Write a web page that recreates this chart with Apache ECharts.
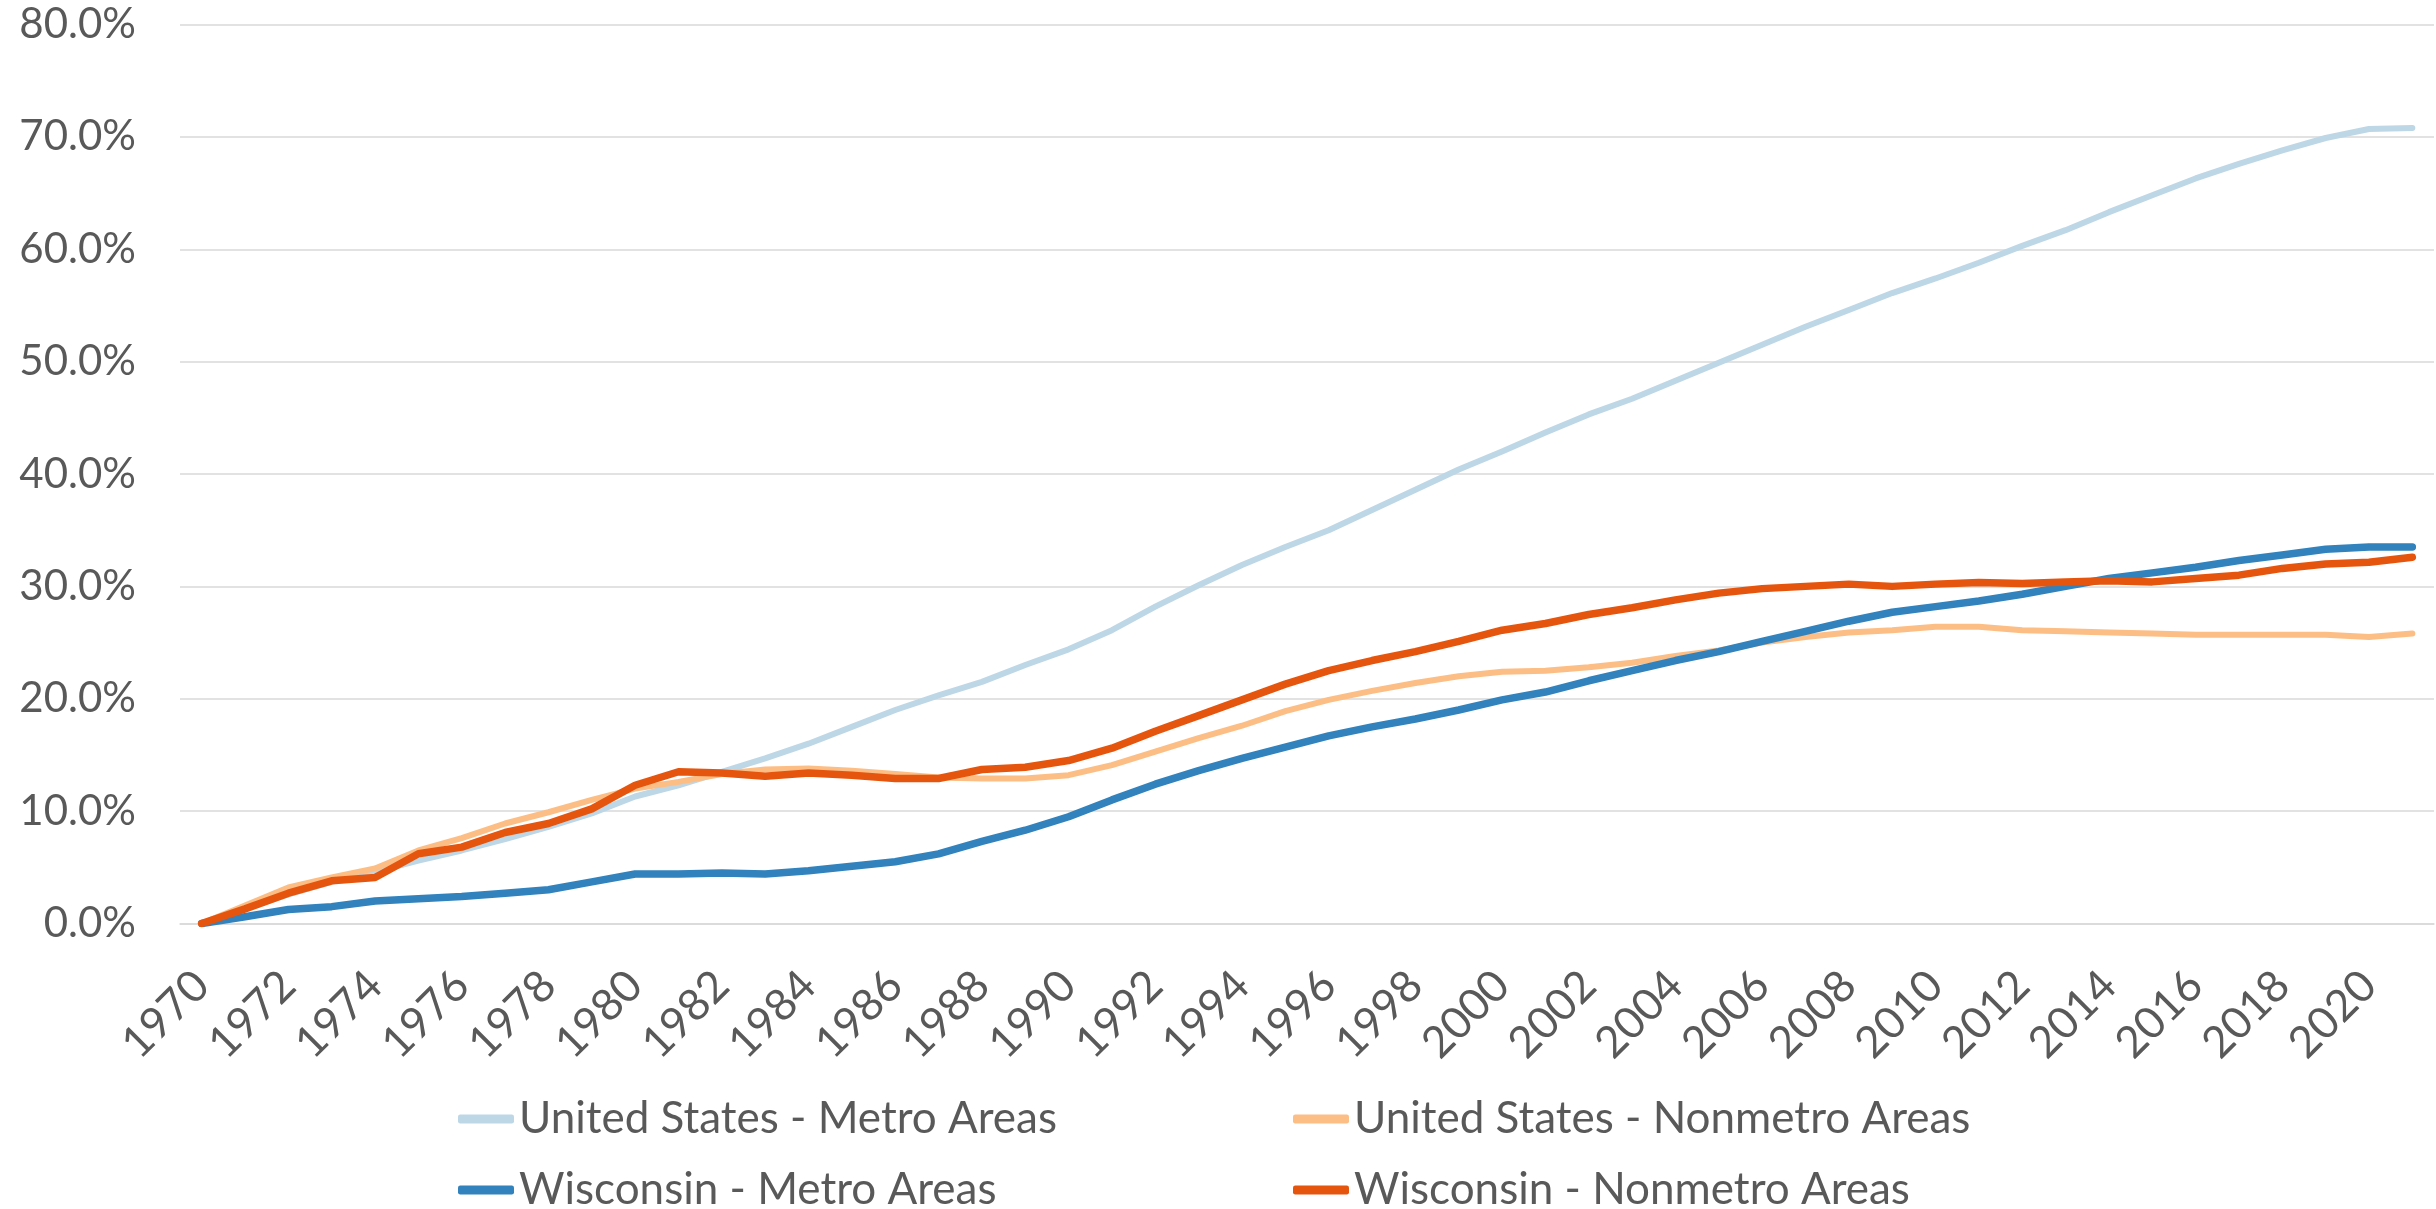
<!DOCTYPE html>
<html>
<head>
<meta charset="utf-8">
<title>Metro vs nonmetro growth</title>
<script src="https://cdn.jsdelivr.net/npm/echarts@6/dist/echarts.min.js"></script>
<style>
html, body { margin: 0; padding: 0; background: #fff; }
#chart { width: 2436px; height: 1209px; }
</style>
</head>
<body>
<div id="chart"></div>
<script>
// years 1970..2021
var years = [];
for (var y = 1970; y <= 2021; y++) years.push(String(y));

var usMetro = [0, 1.3, 2.6, 3.7, 4.6, 5.6, 6.5, 7.5, 8.6, 9.8,
  11.3, 12.3, 13.5, 14.7, 16.0, 17.5, 19.0, 20.3, 21.5, 23.0,
  24.4, 26.1, 28.2, 30.1, 31.9, 33.5, 35.0, 36.8, 38.6, 40.4,
  42.0, 43.7, 45.3, 46.7, 48.3, 49.9, 51.5, 53.1, 54.6, 56.1,
  57.4, 58.8, 60.3, 61.7, 63.3, 64.8, 66.3, 67.6, 68.8, 69.9,
  70.7, 70.8];
var usNonmetro = [0, 1.6, 3.2, 4.1, 4.9, 6.5, 7.6, 8.9, 9.9, 11.0,
  12.0, 12.6, 13.3, 13.7, 13.8, 13.6, 13.3, 13.0, 12.9, 12.9,
  13.2, 14.1, 15.3, 16.5, 17.6, 18.9, 19.9, 20.7, 21.4, 22.0,
  22.4, 22.5, 22.8, 23.2, 23.8, 24.3, 25.0, 25.5, 25.9, 26.1,
  26.4, 26.4, 26.1, 26.0, 25.9, 25.8, 25.7, 25.7, 25.7, 25.7,
  25.5, 25.8];
var wiMetro = [0, 0.6, 1.25, 1.5, 2.0, 2.2, 2.4, 2.7, 3.0, 3.7,
  4.4, 4.4, 4.5, 4.4, 4.7, 5.1, 5.5, 6.2, 7.3, 8.3,
  9.5, 11.0, 12.4, 13.6, 14.7, 15.7, 16.7, 17.5, 18.2, 19.0,
  19.9, 20.6, 21.6, 22.5, 23.4, 24.2, 25.1, 26.0, 26.9, 27.7,
  28.2, 28.7, 29.3, 30.0, 30.7, 31.2, 31.7, 32.3, 32.8, 33.3,
  33.5, 33.5];
var wiNonmetro = [0, 1.3, 2.7, 3.8, 4.1, 6.2, 6.8, 8.1, 8.9, 10.2,
  12.3, 13.5, 13.4, 13.1, 13.4, 13.2, 12.9, 12.9, 13.7, 13.9,
  14.5, 15.6, 17.1, 18.5, 19.9, 21.3, 22.5, 23.4, 24.2, 25.1,
  26.1, 26.7, 27.5, 28.1, 28.8, 29.4, 29.8, 30.0, 30.2, 30.0,
  30.2, 30.35, 30.25, 30.4, 30.5, 30.4, 30.7, 31.0, 31.6, 32.0,
  32.15, 32.6];

var names = ['United States - Metro Areas', 'United States - Nonmetro Areas',
  'Wisconsin - Metro Areas', 'Wisconsin - Nonmetro Areas'];
var colors = ['#bdd7e7', '#fdbe85', '#3182bd', '#e6550d'];

var font = 'Lato, "Open Sans", sans-serif';
var txt = '#595959';

function line(name, data, color, width) {
  return {
    name: name, type: 'line', data: data, symbol: 'none',
    lineStyle: { color: color, width: width, cap: 'round', join: 'round' },
    itemStyle: { color: color },
    emphasis: { disabled: true }
  };
}

// one legend per entry, laid out as 2 columns x 2 rows
function legendAt(name, left, top) {
  return {
    data: [name], left: left, top: top, padding: 0,
    itemWidth: 56, itemHeight: 9, icon: 'roundRect',
    textStyle: { fontFamily: font, fontSize: 44, color: txt, lineHeight: 40 }
  };
}

var chart = echarts.init(document.getElementById('chart'));
chart.setOption({
  animation: false,
  color: colors,
  grid: { left: 180, right: 2, top: 24.5, bottom: 285.5, containLabel: false, outerBoundsMode: 'none' },
  legend: [
    legendAt(names[0], 458, 1097),
    legendAt(names[1], 1293, 1097),
    legendAt(names[2], 458, 1168),
    legendAt(names[3], 1293, 1168)
  ],
  xAxis: {
    type: 'category', data: years, boundaryGap: true,
    axisLine: { lineStyle: { color: '#d9d9d9', width: 1.5 } },
    axisTick: { show: false },
    axisLabel: { interval: 1, rotate: 45, margin: 55, color: txt, fontFamily: font, fontSize: 44 }
  },
  yAxis: {
    type: 'value', min: 0, max: 80, interval: 10,
    axisLine: { show: false }, axisTick: { show: false },
    splitLine: { lineStyle: { color: '#d9d9d9', width: 1.5 } },
    axisLabel: { margin: 44, color: txt, fontFamily: font, fontSize: 42,
      formatter: function (v) { return v.toFixed(1) + '%'; } }
  },
  series: [
    line(names[0], usMetro, colors[0], 6),
    line(names[1], usNonmetro, colors[1], 6),
    line(names[2], wiMetro, colors[2], 7.5),
    line(names[3], wiNonmetro, colors[3], 7.5)
  ]
});
</script>
</body>
</html>
